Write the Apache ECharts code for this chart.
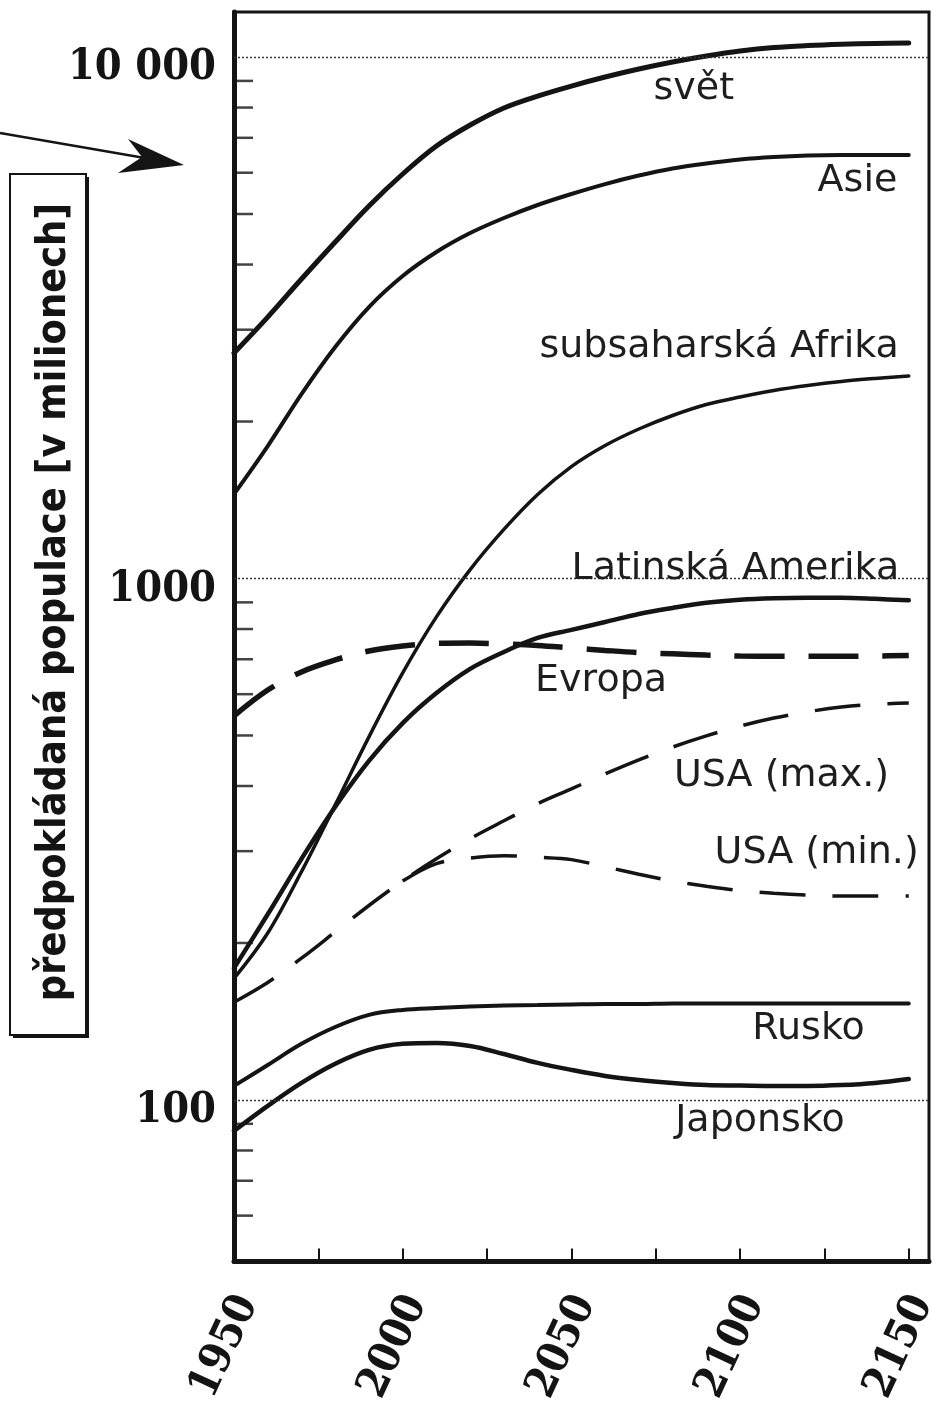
<!DOCTYPE html>
<html><head><meta charset="utf-8">
<script src="https://cdn.jsdelivr.net/npm/echarts@6/dist/echarts.min.js"></script>
<style>html,body{margin:0;padding:0;background:#fff}#c{width:933px;height:1404px}</style>
</head><body><div id="c"></div>
<script>
// ---- data (population in millions) ----
const years = [1950,1960,1970,1980,1990,2000,2010,2020,2030,2040,2050,2060,2070,2080,2090,2100,2110,2120,2130,2140,2150];
const world  = [2707,3172,3752,4418,5180,5966,6750,7406,7986,8417,8798,9155,9484,9782,10044,10268,10428,10521,10582,10619,10634];
const asia   = [1452,1795,2258,2780,3316,3803,4228,4597,4913,5203,5462,5707,5926,6112,6248,6359,6430,6473,6487,6487,6487];
const africa = [171,209,274,368,497,659,844,1040,1242,1449,1639,1799,1935,2054,2156,2229,2294,2345,2387,2419,2446];
const latin  = [179,227,290,365,447,528,603,671,723,769,797,825,855,878,898,910,916,918,918,914,908];
const europe = [545,611,662,698,726,742,751,752,749,744,736,728,721,717,713,710,709,709,709,710,712];
const usaMax = [154,168,187,210,236,263,290,317,343,370,395,422,449,475,499,521,540,555,567,574,577];
const usaMin = [null,null,null,null,null,263,284,291,294,292,289,280,271,263,257,252,249,247,246,246,246];
const russia = [106.4,116.7,128.1,138.0,145.6,148.8,150.1,151.1,151.8,152.1,152.5,152.8,152.8,153.1,153.1,153.1,153.1,153.1,153.1,153.1,153.1];
const japan  = [87.2,97.4,107.8,117.3,124.7,128.1,128.6,126.9,122.5,117.8,114.2,111.2,109.2,107.8,106.8,106.6,106.4,106.4,106.8,107.8,109.7];

const seriesNames = ['svět','Asie','subsaharská Afrika','Latinská Amerika','Evropa','USA (max.)','USA (min.)','Rusko','Japonsko'];
const xLabelYears = [1950,2000,2050,2100,2150];
const yLabelValues = [100,1000,10000];
const yLabelTexts = ['100','1000','10 000'];
const yMinorTicks = [60,70,80,90,200,300,400,500,600,700,800,900,2000,3000,4000,5000,6000,7000,8000,9000];
const gridValues = [100,1000,10000];
const yAxisName = 'předpokládaná populace [v milionech]';

// label anchors in data units [year, population]
const labelAnchors = [[2086.3,8664],[2134.8,5771],[2093.8,2779],[2098.6,1040],[2058.8,634.6],[2112.3,417.3],[2122.7,297],[2120.3,136.5],[2105.9,91.0]];

const INK = '#141414';
const SERIF = '"DejaVu Serif Condensed","DejaVu Serif",serif';
const SANS = '"DejaVu Sans",sans-serif';
const SANSC = '"DejaVu Sans Condensed","DejaVu Sans",sans-serif';

function pairs(vals){ return years.map((y,i)=> vals[i]==null ? null : [y, vals[i]]).filter(p=>p); }

const defs = [
  {data: world,  width: 5,   dash: 'solid'},
  {data: asia,   width: 4,   dash: 'solid'},
  {data: africa, width: 3.5, dash: 'solid'},
  {data: latin,  width: 4.5, dash: 'solid'},
  {data: europe, width: 5.5, dash: [50,24]},
  {data: usaMax, width: 3.5, dash: [46,27]},
  {data: usaMin, width: 3.5, dash: [46,27]},
  {data: russia, width: 4,   dash: 'solid'},
  {data: japan,  width: 4.5, dash: 'solid'}
];

const series = defs.map((d,i)=>({
  type:'line', name: seriesNames[i], data: pairs(d.data), smooth: 0.35, showSymbol:false, symbol:'none',
  lineStyle:{color:INK, width:d.width, type:d.dash, cap: d.dash==='solid'?'round':'butt'},
  z: 3,
  markPoint:{
    silent:true, symbol:'circle', symbolSize:0,
    label:{show:true, position:'inside', formatter: seriesNames[i], fontFamily:SANS, fontSize:38, color:'#1e1e1e', align:'center', verticalAlign:'middle'},
    data:[{coord: labelAnchors[i]}]
  }
}));

series.push({
  type:'line', data: [], silent:true, z:1,
  markLine:{silent:true, symbol:['none','none'], label:{show:false},
    lineStyle:{type:[2,2], width:1.3, color:'#3a3a3a'},
    data: gridValues.map(v=>({yAxis:v}))}
});
series.push({
  type:'scatter', data: yMinorTicks.map(v=>[1950, v]), symbol:'rect', symbolSize:[19,2.5], symbolOffset:[9.5,0],
  itemStyle:{color:INK}, silent:true, clip:false, z:4
});

const option = {
  animation:false,
  backgroundColor:'#fff',
  grid:{left:234, right:4, top:12, bottom:142.5, containLabel:false, outerBoundsMode:'none',
    show:true, borderColor:INK, borderWidth:3, backgroundColor:'transparent'},
  xAxis:{type:'value', min:1950, max:2156, interval:25,
    axisLine:{show:true, onZero:false, lineStyle:{color:INK, width:5}},
    axisTick:{show:true, inside:true, length:13, lineStyle:{color:INK, width:2}},
    splitLine:{show:false},
    axisLabel:{rotate:65, margin:30, verticalAlign:'top', lineHeight:30,
      formatter: v => xLabelYears.indexOf(Math.round(v))>=0 && Math.abs(v-Math.round(v))<1e-6 ? String(Math.round(v)) : '',
      fontFamily:SERIF, fontWeight:'bold', fontSize:43, color:INK}
  },
  yAxis:{type:'log', logBase:10, min:49, max:12200,
    axisLine:{show:true, lineStyle:{color:INK, width:5}},
    axisTick:{show:false}, minorTick:{show:false}, splitLine:{show:false},
    axisLabel:{margin:18, verticalAlign:'top', lineHeight:22,
      formatter: v => { for (let k=0;k<yLabelValues.length;k++){ if (Math.abs(v-yLabelValues[k])/yLabelValues[k] < 1e-6) return yLabelTexts[k]; } return ''; },
      fontFamily:SERIF, fontWeight:'bold', fontSize:43, color:INK}
  },
  graphic:[
    {type:'rect', z:1, shape:{x:13,y:177,width:76,height:861}, style:{fill:INK}},
    {type:'rect', z:2, shape:{x:10,y:174,width:76,height:861}, style:{fill:'#fff', stroke:INK, lineWidth:2}},
    {type:'text', z:3, x:54, y:602, rotation:Math.PI/2,
      style:{text:yAxisName, font:'bold 41px '+SANSC, fill:INK, align:'center', verticalAlign:'middle', textAlign:'center', textVerticalAlign:'middle'}},
    {type:'line', z:3, shape:{x1:0,y1:133,x2:168,y2:162}, style:{stroke:INK, lineWidth:2.5}},
    {type:'polygon', z:3, shape:{points:[[184,165],[128,139],[142,157],[118,173]]}, style:{fill:INK}}
  ],
  series: series
};
const chart = echarts.init(document.getElementById('c'));
chart.setOption(option);
</script></body></html>
